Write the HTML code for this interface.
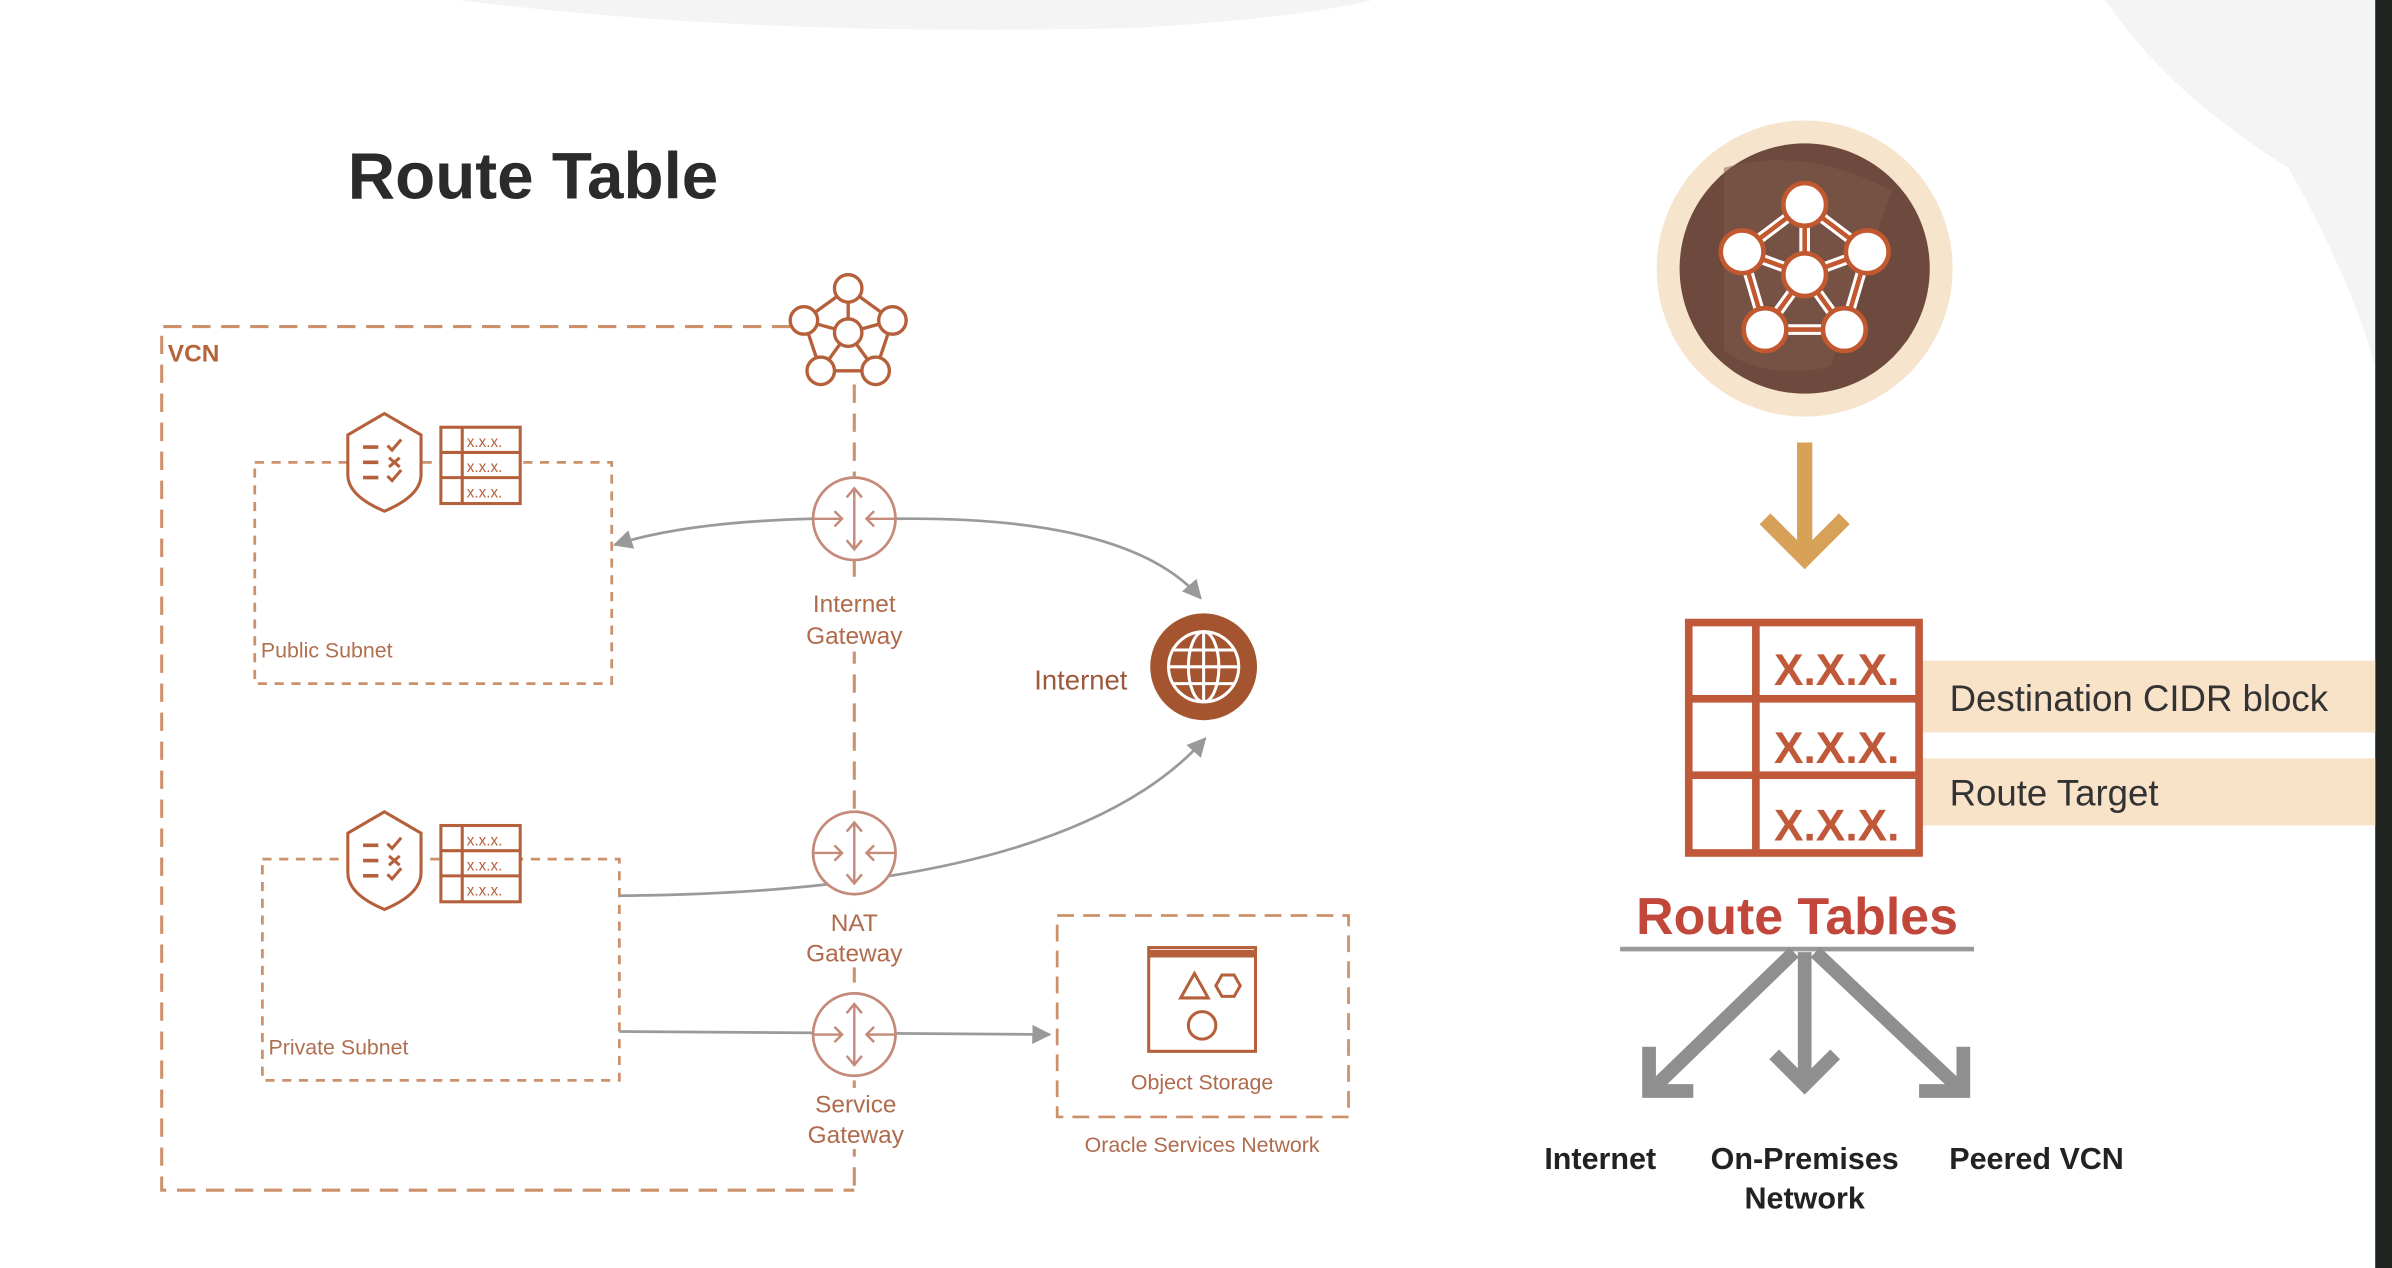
<!DOCTYPE html>
<html><head><meta charset="utf-8"><style>
html,body{margin:0;padding:0;background:#fff;}
svg{display:block;}
text{font-family:"Liberation Sans",Arial,sans-serif;}
</style></head><body>
<svg width="2392" height="1268" viewBox="0 0 1568 831" preserveAspectRatio="none" xmlns="http://www.w3.org/2000/svg">
<defs>
<marker id="ah" viewBox="0 0 10 10" refX="9" refY="5" markerWidth="7" markerHeight="7" orient="auto"><path d="M0,0 L10,5 L0,10 z" fill="#999"/></marker>
<g id="gw">
<circle r="27" fill="#fff" stroke="#c48a7a" stroke-width="1.8"/>
<g stroke="#c48a7a" stroke-width="1.6" fill="none">
<line x1="0" y1="-20" x2="0" y2="20"/><path d="M-5,-14 L0,-20 L5,-14 M-5,14 L0,20 L5,14"/>
<line x1="-27" y1="0" x2="-8" y2="0"/><path d="M-13,-5 L-8,0 L-13,5"/>
<line x1="27" y1="0" x2="8" y2="0"/><path d="M13,-5 L8,0 L13,5"/>
</g></g>
<g id="shield" stroke="#b5603a" stroke-width="2" fill="none">
<path d="M0,-32 L24,-18 L24,8 Q24,22 0,32 Q-24,22 -24,8 L-24,-18 Z" fill="#fff"/>
<path d="M-14,-10 h10 M-14,0 h10 M-14,10 h10" stroke-width="2.4"/>
<path d="M2,-11 l3,3 l6,-7 M3,-3 l7,6 M10,-3 l-7,6 M2,9 l3,3 l6,-7"/>
</g>
<g id="tbl" stroke="#b5603a" stroke-width="2" fill="#fff">
<rect x="0" y="0" width="52" height="50"/>
<line x1="14" y1="0" x2="14" y2="50"/><line x1="0" y1="16.5" x2="52" y2="16.5"/><line x1="0" y1="33" x2="52" y2="33"/>
<g fill="#b5603a" stroke="none" font-size="10" font-family="Liberation Sans"><text x="17" y="13">x.x.x.</text><text x="17" y="29.5">x.x.x.</text><text x="17" y="46">x.x.x.</text></g>
</g>
</defs>
<rect width="1568" height="831" fill="#fff"/>
<path d="M300,0 Q500,25 750,18 Q850,12 900,0 Z" fill="#f3f4f3"/>
<path d="M1380,0 Q1420,60 1500,110 Q1540,180 1557,240 L1557,0 Z" fill="#f3f4f3"/>
<rect x="1557" y="0" width="11" height="831" fill="#1f2421"/>

<text x="228" y="130" font-size="43" font-weight="bold" fill="#2b2b2b">Route Table</text>

<!-- VCN -->
<g stroke="#cc906a" stroke-width="2" fill="none" stroke-dasharray="12,7">
<path d="M518,214 L106,214 L106,780 L560,780"/>
<line x1="560" y1="252" x2="560" y2="780"/>
</g>
<text x="110" y="237" font-size="16" font-weight="bold" fill="#b5643a">VCN</text>
<g stroke="#b5603a" stroke-width="2.2" fill="#fff">
<path d="M556,189 L527,210 L538,243 L574,243 L585,210 Z M556,189 L556,218 L527,210 M556,218 L585,210 M556,218 L538,243 M556,218 L574,243" fill="none"/>
<circle cx="556" cy="189" r="9"/><circle cx="527" cy="210" r="9"/><circle cx="585" cy="210" r="9"/>
<circle cx="538" cy="243" r="9"/><circle cx="574" cy="243" r="9"/><circle cx="556" cy="218" r="9"/>
</g>

<!-- subnets -->
<g stroke="#cc906a" stroke-width="1.8" fill="none" stroke-dasharray="6,5">
<rect x="167" y="303" width="234" height="145"/>
<rect x="172" y="563" width="234" height="145"/>
<rect x="693" y="600" width="191" height="132" stroke-dasharray="11,6"/>
</g>
<text x="171" y="431" font-size="14" fill="#b07050">Public Subnet</text>
<text x="176" y="691" font-size="14" fill="#b07050">Private Subnet</text>
<use href="#shield" x="252" y="303"/><use href="#tbl" x="289" y="280"/>
<use href="#shield" x="252" y="564"/><use href="#tbl" x="289" y="541"/>

<!-- connectors -->
<g stroke="#9a9a9a" stroke-width="1.8" fill="none">
<path d="M533,340 Q450,342 403,357" marker-end="url(#ah)"/>
<path d="M587,340 Q740,338 787,392" marker-end="url(#ah)"/>
<path d="M406,587 Q700,585 790,484" marker-end="url(#ah)"/>
<path d="M406,676 L688,678" marker-end="url(#ah)"/>
</g>
<use href="#gw" x="560" y="340"/>
<use href="#gw" x="560" y="559"/>
<use href="#gw" x="560" y="678"/>
<g fill="#fff">
<rect x="524" y="385" width="72" height="42"/>
<rect x="524" y="594" width="72" height="40"/>
<rect x="524" y="713" width="74" height="40"/>
</g>
<g font-size="16" fill="#b06a4c" text-anchor="middle">
<text x="560" y="401">Internet</text><text x="560" y="422">Gateway</text>
<text x="560" y="610">NAT</text><text x="560" y="630">Gateway</text>
<text x="561" y="729">Service</text><text x="561" y="749">Gateway</text>
<text x="788" y="714" font-size="14">Object Storage</text>
<text x="788" y="755" font-size="14">Oracle Services Network</text>
</g>
<text x="678" y="452" font-size="18" fill="#9c5a3c">Internet</text>
<circle cx="789" cy="437" r="35" fill="#a4552f"/>
<g stroke="#fff" stroke-width="2" fill="none">
<circle cx="789" cy="437" r="23"/>
<ellipse cx="789" cy="437" rx="10" ry="23"/>
<line x1="789" y1="414" x2="789" y2="460"/>
<line x1="766" y1="437" x2="812" y2="437"/>
<line x1="769" y1="426" x2="809" y2="426"/><line x1="769" y1="448" x2="809" y2="448"/>
</g>
<!-- object storage icon -->
<g stroke="#b5603a" stroke-width="2" fill="none">
<rect x="753" y="621" width="70" height="68"/>
<line x1="753" y1="625" x2="823" y2="625" stroke-width="5"/>
<path d="M774,654 L783,638 L792,654 Z"/>
<path d="M797,646 L801,639 L809,639 L813,646 L809,653 L801,653 Z"/>
<circle cx="788" cy="672" r="9"/>
</g>

<!-- right side -->
<circle cx="1183" cy="176" r="97" fill="#f6e4cd"/>
<circle cx="1183" cy="176" r="82" fill="#6d4a3d"/>
<path d="M1130,110 Q1183,95 1240,125 L1200,240 Q1160,250 1130,230 Z" fill="#7d5a4a" opacity="0.5"/>
<g stroke="#fff" stroke-width="7" fill="none">
<path d="M1183,134 L1142,165 L1157,216 L1209,216 L1224,165 Z M1183,134 L1183,180 L1142,165 M1183,180 L1224,165 M1183,180 L1157,216 M1183,180 L1209,216"/>
</g>
<g stroke="#c2582f" stroke-width="3" fill="none">
<path d="M1183,134 L1142,165 L1157,216 L1209,216 L1224,165 Z M1183,134 L1183,180 L1142,165 M1183,180 L1224,165 M1183,180 L1157,216 M1183,180 L1209,216"/>
</g>
<g fill="#fff" stroke="#c2582f" stroke-width="3">
<circle cx="1183" cy="134" r="14"/><circle cx="1142" cy="165" r="14"/><circle cx="1224" cy="165" r="14"/>
<circle cx="1157" cy="216" r="14"/><circle cx="1209" cy="216" r="14"/><circle cx="1183" cy="180" r="14"/>
</g>
<g stroke="#d8a158" stroke-width="10" fill="none">
<line x1="1183" y1="290" x2="1183" y2="366"/>
<path d="M1157,340 L1183,366 L1209,340"/>
</g>

<rect x="1260" y="433" width="297" height="47" fill="#f8e3c9"/>
<rect x="1260" y="497" width="297" height="44" fill="#f8e3c9"/>
<text x="1278" y="466" font-size="24" fill="#333">Destination CIDR block</text>
<text x="1278" y="528" font-size="24" fill="#333">Route Target</text>
<g stroke="#c0593a" stroke-width="5" fill="#fff">
<rect x="1107" y="408" width="151" height="151"/>
<line x1="1151" y1="408" x2="1151" y2="559"/>
<line x1="1107" y1="458" x2="1258" y2="458"/><line x1="1107" y1="508" x2="1258" y2="508"/>
</g>
<g font-size="29" font-weight="bold" fill="#c0593a" text-anchor="middle">
<text x="1204" y="449">X.X.X.</text><text x="1204" y="500">X.X.X.</text><text x="1204" y="551">X.X.X.</text>
</g>
<text x="1178" y="612" font-size="34" font-weight="bold" fill="#c0473a" text-anchor="middle">Route Tables</text>
<line x1="1062" y1="622" x2="1294" y2="622" stroke="#999" stroke-width="3"/>
<g stroke="#8f8f8f" stroke-width="9" fill="none">
<line x1="1176" y1="624" x2="1085" y2="712"/>
<path d="M1081,686 L1081,715 L1110,715"/>
<line x1="1183" y1="624" x2="1183" y2="710"/>
<path d="M1163,691 L1183,711 L1203,691"/>
<line x1="1190" y1="624" x2="1283" y2="712"/>
<path d="M1287,686 L1287,715 L1258,715"/>
</g>
<g font-size="20" font-weight="bold" fill="#222" text-anchor="middle">
<text x="1049" y="766">Internet</text>
<text x="1183" y="766">On-Premises</text>
<text x="1183" y="792">Network</text>
<text x="1335" y="766">Peered VCN</text>
</g>
</svg>
</body></html>
